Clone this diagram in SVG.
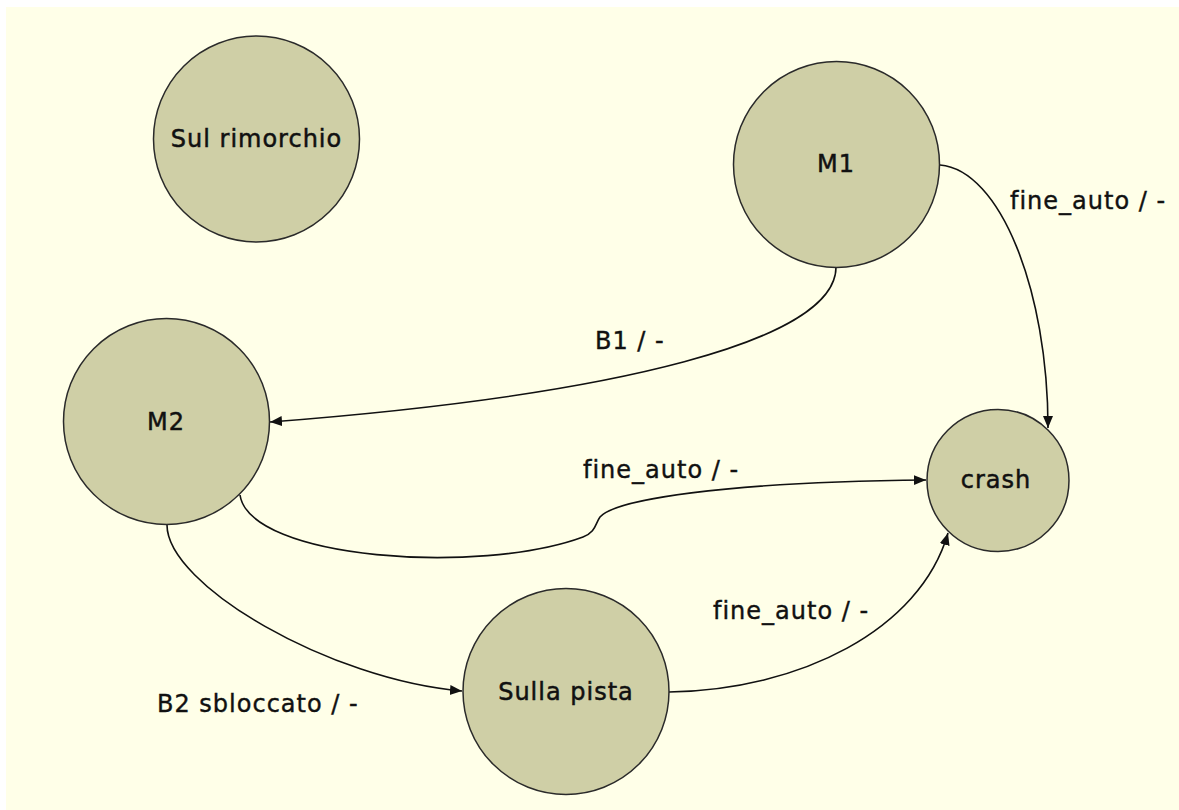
<svg xmlns="http://www.w3.org/2000/svg" width="1179" height="810" viewBox="0 0 1179 810">
  <style>
    .state { fill: #cfcfa6; stroke: #2a2a2a; stroke-width: 1.5; }
    .name { font-family: "DejaVu Sans", Verdana, sans-serif; font-size: 24px; letter-spacing: 1px; fill: #111; stroke: #111; stroke-width: 0.5; text-anchor: middle; }
    .edge { fill: none; stroke: #111; stroke-width: 1.6; marker-end: url(#arrow); }
    .label { font-family: "DejaVu Sans", Verdana, sans-serif; font-size: 24px; letter-spacing: 1px; fill: #111; stroke: #111; stroke-width: 0.4; }
  </style>
  <defs>
    <marker id="arrow" markerUnits="userSpaceOnUse" markerWidth="14" markerHeight="12" refX="12" refY="5" orient="auto">
      <path d="M0,0 L12,5 L0,10 z" fill="#111"/>
    </marker>
  </defs>

  <!-- canvas -->
  <rect x="0" y="0" width="1179" height="810" fill="#ffffff"/>
  <rect x="6" y="7" width="1173" height="803" fill="#ffffe8"/>

  <!-- transitions -->
  <g id="connectors">
    <path class="edge" d="M836,267 C836,340 620,395 270,422"/>
    <path class="edge" d="M940,165 C1000,170 1048,290 1048,428"/>
    <path class="edge" d="M240,495 C250,560 480,575 583,537 C596,532 595,524 600,517 C615,500 720,482 926,480"/>
    <path class="edge" d="M167,525 C167,585 330,680 462,691"/>
    <path class="edge" d="M669,692 C800,690 920,630 948,533"/>

    <text class="label" x="1010" y="209">fine_auto / -</text>
    <text class="label" x="595" y="349">B1 / -</text>
    <text class="label" x="583" y="478">fine_auto / -</text>
    <text class="label" x="713" y="619">fine_auto / -</text>
    <text class="label" x="157" y="712">B2 sbloccato / -</text>
  </g>

  <!-- states -->
  <g id="sul-rimorchio">
    <circle class="state" cx="256.5" cy="139" r="103"/>
    <text class="name" x="256.5" y="147">Sul rimorchio</text>
  </g>
  <g id="m1">
    <circle class="state" cx="836.5" cy="164.5" r="103"/>
    <text class="name" x="836" y="172">M1</text>
  </g>
  <g id="m2">
    <circle class="state" cx="166.5" cy="421.5" r="103"/>
    <text class="name" x="166" y="430">M2</text>
  </g>
  <g id="crash">
    <circle class="state" cx="998" cy="480.5" r="71"/>
    <text class="name" x="996" y="488">crash</text>
  </g>
  <g id="sulla-pista">
    <circle class="state" cx="566" cy="691.5" r="103"/>
    <text class="name" x="566" y="700">Sulla pista</text>
  </g>
</svg>
